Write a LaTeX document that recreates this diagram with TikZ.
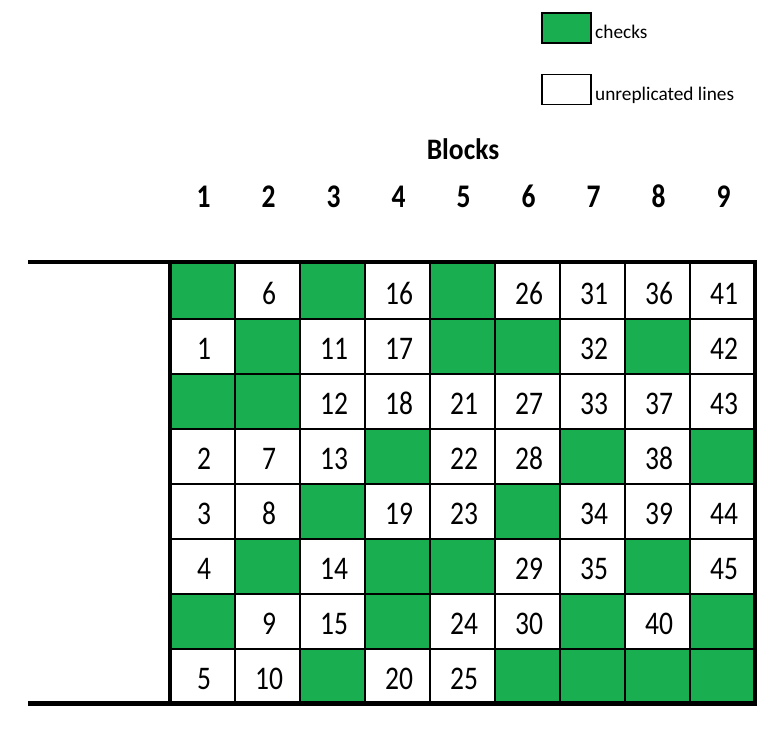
\documentclass[tikz,border=0pt]{standalone}
\usepackage{fontspec}
\setmainfont{Carlito}
\definecolor{chkgreen}{RGB}{25,175,80}
\def\gmark{G}
\newcommand\tallnum[1]{\scalebox{1}[1.2]{#1}}
\tikzset{
  cellbox/.style={draw=none, inner sep=0pt, minimum width=65pt, minimum height=55pt},
  numtxt/.style={inner sep=0pt, anchor=base, font=\fontsize{27.5}{27.5}\selectfont},
  headtxt/.style={inner sep=0pt, anchor=base, font=\fontsize{27.5}{27.5}\selectfont\bfseries},
  legbox/.style={draw=black, line width=1.4pt, inner sep=0pt, minimum width=49pt, minimum height=30pt},
  legtxt/.style={inner sep=0pt, anchor=base west, font=\fontsize{19.3}{19.3}\selectfont},
  thinline/.style={draw=black, line width=1.5pt},
  thickline/.style={draw=black, line width=4.6pt}
}
\begin{document}
\begin{tikzpicture}[x=1pt,y=-1pt]
\useasboundingbox (0,0) rectangle (783,742);
% legend
\node[legbox, fill=chkgreen] (leggreen) at (566.5,28) {};
\node[legtxt] (legtxtg) at (595,38.5) {checks};
\node[legbox, fill=white] (legwhite) at (566.5,89.5) {};
\node[legtxt] (legtxtw) at (595,100) {unreplicated lines};
% titles
\node[headtxt] (blocks) at (463,159.3) {\scalebox{1}[1.08]{Blocks}};
\foreach \c in {1,...,9} {
  \node[headtxt] (h\c) at ({138.5+65*\c},207.3) {\tallnum{\c}};
}
% cells
\foreach \rowlist [count=\r] in {
  {G,6,G,16,G,26,31,36,41},
  {1,G,11,17,G,G,32,G,42},
  {G,G,12,18,21,27,33,37,43},
  {2,7,13,G,22,28,G,38,G},
  {3,8,G,19,23,G,34,39,44},
  {4,G,14,G,G,29,35,G,45},
  {G,9,15,G,24,30,G,40,G},
  {5,10,G,20,25,G,G,G,G}} {
  \foreach \v [count=\c] in \rowlist {
    \edef\cellval{\v}
    \ifx\cellval\gmark
      \node[cellbox, fill=chkgreen] (c\r-\c) at ({137.5+65*\c},{236.5+55*\r}) {};
    \else
      \node[cellbox, fill=white] (c\r-\c) at ({137.5+65*\c},{236.5+55*\r}) {};
      \node[numtxt] (t\r-\c) at ([shift={(1.5,12.5)}]c\r-\c.center) {\tallnum{\v}};
    \fi
  }
}
% inner grid lines
\foreach \c in {1,...,8} {
  \draw[thinline] (c1-\c.north east) -- (c8-\c.south east);
}
\foreach \r in {1,...,7} {
  \draw[thinline] (c\r-1.south west) -- (c\r-9.south east);
}
% thick frame
\coordinate (tl) at (28,262);
\coordinate (tr) at (757.3,262);
\coordinate (bl) at (28,703.5);
\coordinate (br) at (757.3,703.5);
\coordinate (lt) at (170,262);
\coordinate (lb) at (170,703.5);
\coordinate (rt) at (755,262);
\coordinate (rb) at (755,703.5);
\draw[thickline] (tl) -- (tr);
\draw[thickline] (bl) -- (br);
\draw[thickline] (lt) -- (lb);
\draw[thickline] (rt) -- (rb);
\end{tikzpicture}
\end{document}
